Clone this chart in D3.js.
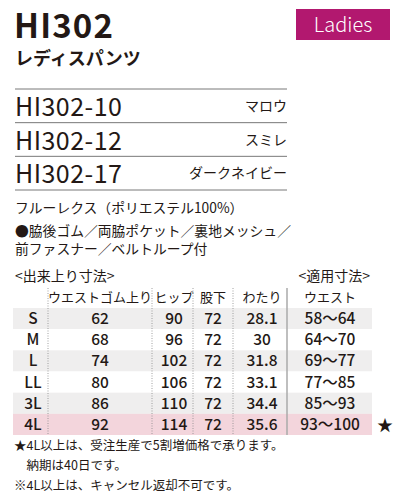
<!DOCTYPE html><html><head><meta charset="utf-8"><script src="https://cdn.jsdelivr.net/npm/d3@7"></script>
<style>body{margin:0;background:#fff}text{font-family:"Noto Sans CJK JP";fill:#231815}</style></head><body>
<script>
const colors=[["HI302-10","マロウ"],["HI302-12","スミレ"],["HI302-17","ダークネイビー"]];
const features=["フルーレクス（ポリエステル100%）","●脇後ゴム／両脇ポケット／裏地メッシュ／","前ファスナー／ベルトループ付"];
const headers=["","ウエストゴム上り","ヒップ","股下","わたり","ウエスト"];
const sizes=["S","M","L","LL","3L","4L"];
const waistGum=["62","68","74","80","86","92"];
const hip=["90","96","102","106","110","114"];
const inseam=["72","72","72","72","72","72"];
const thigh=["28.1","30","31.8","33.1","34.4","35.6"];
const fitWaist=["58～64","64～70","69～77","77～85","85～93","93～100"];
const notes=["★4L以上は、受注生産で5割増価格で承ります。","　納期は40日です。","※4L以上は、キャンセル返却不可です。"];

const svg=d3.select("body").append("svg").attr("width",400).attr("height",500);
svg.append("text").attr("x",14).attr("y",38).attr("font-size",33).attr("font-weight",700).attr("textLength",99).text("HI302");
svg.append("text").attr("x",15).attr("y",65).attr("font-size",18).attr("font-weight",700).text("レディスパンツ");
svg.append("rect").attr("x",296).attr("y",9).attr("width",94).attr("height",31).attr("fill","#b2186f");
svg.append("text").attr("x",343).attr("y",32).attr("text-anchor","middle").attr("font-size",20).attr("font-weight",300).style("fill","#fff").text("Ladies");

const cy=d3.scaleBand().domain(d3.range(colors.length)).range([89,190]);
svg.selectAll("line.c").data(d3.range(colors.length+1)).join("line")
 .attr("x1",15).attr("x2",287).attr("y1",i=>89+i*cy.step()).attr("y2",i=>89+i*cy.step()).attr("stroke","#555").attr("stroke-width",0.8);
colors.forEach((c,i)=>{
 svg.append("text").attr("x",15).attr("y",cy(i)+27).attr("font-size",25).attr("textLength",107).text(c[0]);
 svg.append("text").attr("x",287).attr("y",cy(i)+22).attr("text-anchor","end").attr("font-size",14).text(c[1]);
});
features.forEach((f,i)=>svg.append("text").attr("x",15).attr("y",[213,236,254][i]).attr("font-size",13.8).text(f));

svg.append("text").attr("x",15).attr("y",281).attr("font-size",14).text("<出来上り寸法>");
svg.append("text").attr("x",370).attr("y",281).attr("text-anchor","end").attr("font-size",14).text("<適用寸法>");

const ry=d3.scaleBand().domain(sizes).range([308,435]);
const colX=[33,100,174,213,262,330];
const divX=[48,152,193,233];
svg.selectAll("rect.r").data(sizes).join("rect").attr("x",13).attr("width",359)
 .attr("y",d=>ry(d)).attr("height",ry.bandwidth())
 .attr("fill",(d,i)=>i==5?"#f3d5dc":(i%2==0?"#efeeee":"#fff"));
divX.forEach(x=>svg.append("line").attr("x1",x).attr("x2",x).attr("y1",288).attr("y2",435).attr("stroke","#888").attr("stroke-width",0.8).attr("stroke-dasharray","1,1.5"));
svg.append("line").attr("x1",287).attr("x2",287).attr("y1",288).attr("y2",435).attr("stroke","#aaa").attr("stroke-width",1.5);
headers.forEach((h,i)=>svg.append("text").attr("x",colX[i]).attr("y",302).attr("text-anchor","middle").attr("font-size",13).text(h));
const cols=[sizes,waistGum,hip,inseam,thigh,fitWaist];
sizes.forEach((s,r)=>cols.forEach((c,k)=>svg.append("text").attr("x",colX[k]).attr("y",ry(s)+16).attr("text-anchor","middle").attr("font-size",15.5).attr("font-weight",500).text(c[r])));
svg.append("text").attr("x",385).attr("y",ry("4L")+17).attr("text-anchor","middle").attr("font-size",16).text("★");
notes.forEach((n,i)=>svg.append("text").attr("x",14).attr("y",450+i*20).attr("font-size",12.5).text(n));
</script></body></html>
